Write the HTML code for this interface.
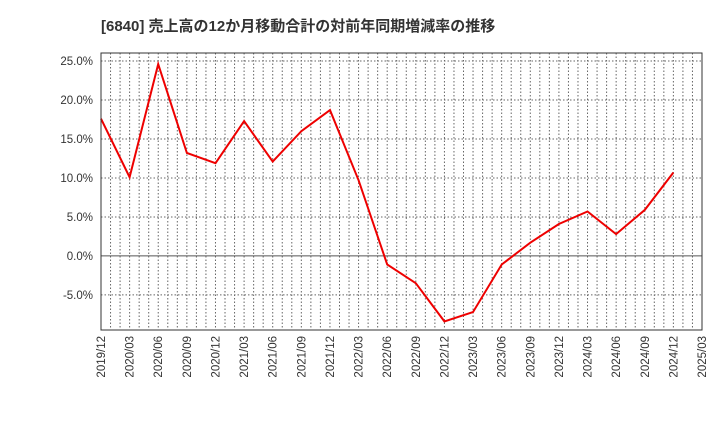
<!DOCTYPE html>
<html><head><meta charset="utf-8"><style>
body{margin:0;background:#fff;width:720px;height:440px;overflow:hidden}
text{font-family:"Liberation Sans","Noto Sans CJK JP",sans-serif}
</style></head><body>
<svg id="chart" width="720" height="440" xmlns="http://www.w3.org/2000/svg">
<text x="101" y="31" font-size="15" font-weight="bold" fill="#333">[6840]  売上高の12か月移動合計の対前年同期増減率の推移</text>
<g id="grid"></g>
<g id="axes"></g>
<path id="line" fill="none" stroke="#ee0000" stroke-width="2"/>
<rect x="101" y="53" width="601" height="277" fill="none" stroke="#333" stroke-width="1"/>
</svg>
<script>
const xLabels=["2019/12","2020/03","2020/06","2020/09","2020/12","2021/03","2021/06","2021/09","2021/12","2022/03","2022/06","2022/09","2022/12","2023/03","2023/06","2023/09","2023/12","2024/03","2024/06","2024/09","2024/12","2025/03"];
const values=[17.6,10.1,24.6,13.2,11.9,17.3,12.1,16.0,18.7,9.7,-1.1,-3.5,-8.4,-7.2,-1.1,1.7,4.1,5.7,2.8,5.9,10.7];
const yTicks=[-5,0,5,10,15,20,25];
const L=101,R=702,T=53,B=330,yMin=-9.5,yMax=26.03;
const NS="http://www.w3.org/2000/svg";
const xs=i=>L+(R-L)*i/(xLabels.length-1);
const ys=v=>B-(v-yMin)/(yMax-yMin)*(B-T);
const grid=document.getElementById('grid'),axes=document.getElementById('axes');
function mk(tag,attrs,parent){const e=document.createElementNS(NS,tag);for(const k in attrs)e.setAttribute(k,attrs[k]);parent.appendChild(e);return e;}
const nMonths=(xLabels.length-1)*3;
for(let m=1;m<nMonths;m++){const x=L+(R-L)*m/nMonths;
const gl=mk('line',{x1:x,x2:x,y1:T,y2:B,stroke:'#666','stroke-dasharray':'1.5,2','stroke-width':1},grid);

}
yTicks.forEach(v=>{const y=ys(v);
const gl=mk('line',{x1:L,x2:R,y1:y,y2:y,stroke:v===0?'#555':'#666','stroke-dasharray':v===0?'':'1.5,2','stroke-width':1},grid);


const t=mk('text',{x:L-8,y:y+4,'text-anchor':'end','font-size':11.5,fill:'#333'},axes);
t.textContent=v.toFixed(1)+'%';

});
xLabels.forEach((s,i)=>{const x=xs(i);
const t=mk('text',{x:0,y:0,'text-anchor':'end','font-size':11.5,fill:'#333',transform:`translate(${x+4},${B+6}) rotate(-90)`},axes);
t.textContent=s;

});
document.getElementById('line').setAttribute('d',values.map((v,i)=>(i?'L':'M')+xs(i).toFixed(1)+','+ys(v).toFixed(1)).join(''));
</script>
</body></html>
